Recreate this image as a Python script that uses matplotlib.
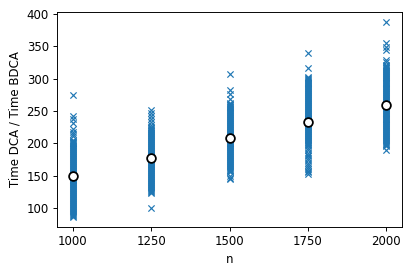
import numpy as np
import matplotlib
matplotlib.use("Agg")
import matplotlib.pyplot as plt

# valores (ratio de tiempos por n)
n_values = [1000, 1250, 1500, 1750, 2000]

ratio_1000 = [275, 242, 237, 231, 222, 218, 214, 211, 206, 203, 200, 197, 194, 191,
              188, 185, 182, 179, 176, 173, 170, 167, 164, 161, 158, 155, 152, 149,
              146, 143, 140, 137, 134, 131, 128, 125, 122, 119, 116, 113, 110, 107,
              104, 101, 98, 95, 92, 89, 87,
              204.5, 201.5, 198.5, 195.5, 192.5, 189.5, 186.5, 183.5, 180.5, 177.5,
              174.5, 171.5, 168.5, 165.5, 162.5, 159.5, 156.5, 153.5, 150.5, 147.5,
              144.5, 141.5, 138.5, 135.5, 132.5, 129.5, 126.5, 123.5, 120.5, 117.5,
              114.5, 111.5, 108.5, 105.5, 102.5, 99.5, 96.5, 93.5, 90.5]
ratio_1250 = [252, 247, 243, 238, 233, 228, 225, 222, 219, 216, 213, 210, 207, 204,
              201, 198, 195, 192, 189, 186, 183, 180, 177, 174, 171, 168, 165, 162,
              159, 156, 153, 150, 147, 144, 141, 138, 135, 132, 129, 126, 124, 100,
              223.5, 220.5, 217.5, 214.5, 211.5, 208.5, 205.5, 202.5, 199.5, 196.5,
              193.5, 190.5, 187.5, 184.5, 181.5, 178.5, 175.5, 172.5, 169.5, 166.5,
              163.5, 160.5, 157.5, 154.5, 151.5, 148.5, 145.5, 142.5, 139.5, 136.5,
              133.5, 130.5, 127.5]
ratio_1500 = [307, 282, 277, 268, 263, 260, 257, 254, 251, 248, 245, 242, 239, 236,
              233, 230, 227, 224, 221, 218, 215, 212, 209, 206, 203, 200, 197, 194,
              191, 188, 185, 182, 179, 176, 173, 170, 167, 164, 161, 158, 156, 150,
              147, 145,
              261.5, 258.5, 255.5, 252.5, 249.5, 246.5, 243.5, 240.5, 237.5, 234.5,
              231.5, 228.5, 225.5, 222.5, 219.5, 216.5, 213.5, 210.5, 207.5, 204.5,
              201.5, 198.5, 195.5, 192.5, 189.5, 186.5, 183.5, 180.5, 177.5, 174.5,
              171.5, 168.5, 165.5, 162.5, 159.5]
ratio_1750 = [340, 317, 303, 300, 297, 294, 291, 288, 285, 282, 279, 276, 273, 270,
              267, 264, 261, 258, 255, 252, 249, 246, 243, 240, 237, 234, 231, 228,
              225, 222, 219, 216, 213, 210, 207, 204, 201, 198, 193, 186, 180, 175,
              170, 164, 158, 153,
              301.5, 298.5, 295.5, 292.5, 289.5, 286.5, 283.5, 280.5, 277.5, 274.5,
              271.5, 268.5, 265.5, 262.5, 259.5, 256.5, 253.5, 250.5, 247.5, 244.5,
              241.5, 238.5, 235.5, 232.5, 229.5, 226.5, 223.5, 220.5, 217.5, 214.5,
              211.5, 208.5, 205.5, 202.5, 199.5, 196, 190, 183, 177, 167, 161, 156]
ratio_2000 = [388, 355, 349, 344, 329, 326, 321, 318, 315, 312, 309, 306, 303, 300,
              297, 294, 291, 288, 285, 282, 279, 276, 273, 270, 267, 264, 261, 258,
              255, 252, 249, 246, 243, 240, 237, 234, 231, 228, 225, 222, 219, 216,
              213, 210, 207, 204, 201, 198, 196, 190,
              319.5, 316.5, 313.5, 310.5, 307.5, 304.5, 301.5, 298.5, 295.5, 292.5,
              289.5, 286.5, 283.5, 280.5, 277.5, 274.5, 271.5, 268.5, 265.5, 262.5,
              259.5, 256.5, 253.5, 250.5, 247.5, 244.5, 241.5, 238.5, 235.5, 232.5,
              229.5, 226.5, 223.5, 220.5, 217.5, 214.5, 211.5, 208.5, 205.5, 202.5,
              199.5]

ratio_mean = [150, 178, 209, 233, 259]

all_ratios = [ratio_1000, ratio_1250, ratio_1500, ratio_1750, ratio_2000]

fig = plt.figure(figsize=(411 / 85, 273 / 85), dpi=85)
ax = fig.add_subplot(111)
fig.subplots_adjust(left=0.139, right=0.978, top=0.957, bottom=0.170)

for n, vals in zip(n_values, all_ratios):
    ax.scatter(np.full(len(vals), n), vals, marker="x", color="#1f77b4",
               s=28, linewidths=1.0)

ax.scatter(n_values, ratio_mean, marker="o", s=55, facecolor="white",
           edgecolor="black", linewidths=1.5, zorder=3)

ax.set_xticks(n_values)
ax.set_xlabel("n")
ax.set_ylabel("Time DCA / Time BDCA")

plt.savefig("out.png", dpi=85)
